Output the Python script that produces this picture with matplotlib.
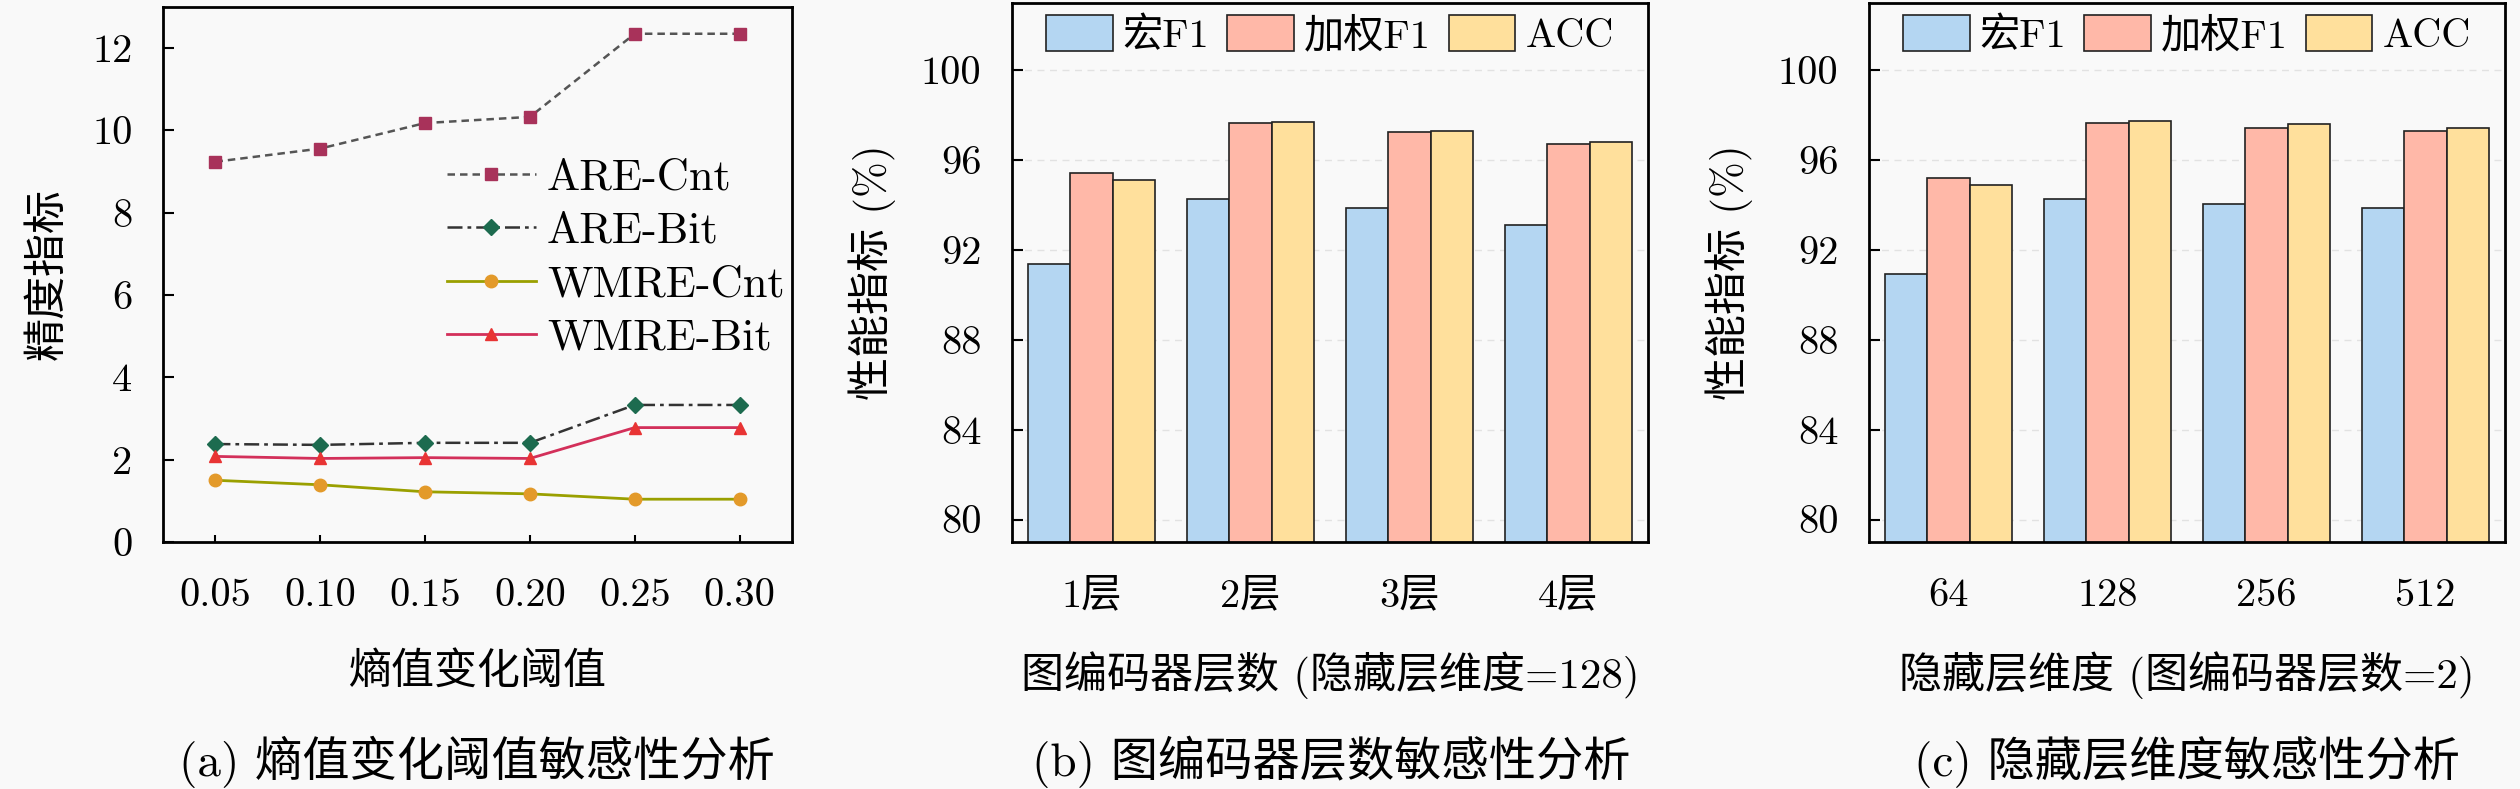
import matplotlib
matplotlib.use("Agg")
import matplotlib.pyplot as plt
import numpy as np

plt.rcParams['font.family'] = ['cmr10', 'Noto Sans CJK SC', 'DejaVu Sans']
plt.rcParams['axes.unicode_minus'] = False
plt.rcParams['mathtext.fontset'] = 'cm'

# ---------- data ----------
thresholds = ["0.05", "0.10", "0.15", "0.20", "0.25", "0.30"]
are_cnt = [9.24, 9.56, 10.18, 10.33, 12.35, 12.35]
are_bit = [2.38, 2.36, 2.41, 2.41, 3.33, 3.33]
wmre_cnt = [1.50, 1.39, 1.22, 1.17, 1.04, 1.04]
wmre_bit = [2.08, 2.03, 2.05, 2.03, 2.78, 2.78]

layers = ["1层", "2层", "3层", "4层"]
layers_macro = [91.36, 94.26, 93.88, 93.13]
layers_weighted = [95.42, 97.66, 97.25, 96.70]
layers_acc = [95.11, 97.72, 97.32, 96.79]

dims = ["64", "128", "256", "512"]
dims_macro = [90.94, 94.27, 94.07, 93.87]
dims_weighted = [95.21, 97.67, 97.43, 97.29]
dims_acc = [94.88, 97.76, 97.61, 97.43]

bar_labels = ["宏F1", "加权F1", "ACC"]
bar_colors = ["#b4d6f2", "#ffb8a8", "#ffe09c"]

W, H = 2520, 789
BG = "#f9f9f9"
fig = plt.figure(figsize=(W / 100, H / 100), dpi=100, facecolor=BG)

def px_axes(l, r, t, b):
    return fig.add_axes([l / W, 1 - b / H, (r - l) / W, (b - t) / H], facecolor=BG)

TICK_FS = 29
LAB_FS = 31
CAP_FS = 34

def style(ax, xticks=True):
    for s in ax.spines.values():
        s.set_linewidth(2.0)
        s.set_color('black')
    ax.tick_params(axis='y', direction='in', length=8, width=1.5, labelsize=TICK_FS, pad=22)
    ax.tick_params(axis='x', direction='in', length=5 if xticks else 0, width=1.5,
                   labelsize=TICK_FS, pad=26)

# ---------- (a) ----------
ax1 = px_axes(163, 792, 7, 542)
x = np.arange(len(thresholds))
ax1.plot(x, are_cnt, linestyle=(0, (3, 2)), color="#555555", lw=1.8, marker='s', ms=9,
         mfc="#a8325a", mec="#a8325a", label="ARE-Cnt")
ax1.plot(x, are_bit, linestyle=(0, (6, 2, 1.5, 2)), color="#333333", lw=1.8, marker='D', ms=8,
         mfc="#1d6b4f", mec="#1d6b4f", label="ARE-Bit")
ax1.plot(x, wmre_cnt, linestyle='-', color="#9aa000", lw=2.0, marker='o', ms=9,
         mfc="#e39a2a", mec="#e39a2a", label="WMRE-Cnt")
ax1.plot(x, wmre_bit, linestyle='-', color="#d3305a", lw=2.0, marker='^', ms=9,
         mfc="#e83434", mec="#e83434", label="WMRE-Bit")
ax1.set_xlim(-0.5, len(thresholds) - 0.5)
ax1.set_ylim(0, 13)
ax1.set_xticks(x)
ax1.set_xticklabels(thresholds)
ax1.set_yticks([0, 2, 4, 6, 8, 10, 12])
style(ax1)
ax1.set_xlabel("熵值变化阈值", fontsize=LAB_FS, labelpad=27)
ax1.set_ylabel("精度指标", fontsize=LAB_FS, labelpad=18)
ax1.legend(loc='center right', bbox_to_anchor=(0.995, 0.53), frameon=False, fontsize=32,
           handlelength=2.0, handletextpad=0.25, labelspacing=0.3, borderpad=0.1,
           borderaxespad=0.0)

# ---------- bar panels ----------
def bar_panel(ax, cats, macro, weighted, acc, xlabel):
    xx = np.arange(len(cats))
    bw = 0.8 / 3
    for i, (vals, c, lab) in enumerate(zip([macro, weighted, acc], bar_colors, bar_labels)):
        ax.bar(xx + (i - 1) * bw, vals, width=bw, color=c, edgecolor='#222222', lw=1.2,
               label=lab, zorder=2)
    ax.set_xlim(-0.5, len(cats) - 0.5)
    ax.set_ylim(79, 103)
    ax.set_yticks([80, 84, 88, 92, 96, 100])
    ax.set_xticks(xx)
    ax.set_xticklabels(cats)
    ax.yaxis.grid(True, linestyle=(0, (5, 4)), color="#e2e2e2", lw=1.0, zorder=0)
    ax.set_axisbelow(True)
    style(ax, xticks=False)
    ax.set_xlabel(xlabel, fontsize=LAB_FS, labelpad=27)
    ax.set_ylabel("性能指标 (%)", fontsize=LAB_FS, labelpad=18)
    ax.legend(loc='upper center', bbox_to_anchor=(0.5, 1.0), ncol=3, frameon=False,
              fontsize=29, handlelength=1.65, handleheight=1.0, handletextpad=0.25,
              columnspacing=0.45, borderpad=0.1, borderaxespad=0.2)

ax2 = px_axes(1012, 1648, 3, 542)
bar_panel(ax2, layers, layers_macro, layers_weighted, layers_acc, "图编码器层数 (隐藏层维度=128)")

ax3 = px_axes(1869, 2505, 3, 542)
bar_panel(ax3, dims, dims_macro, dims_weighted, dims_acc, "隐藏层维度 (图编码器层数=2)")

# ---------- captions ----------
for cx, txt in [(477, "(a) 熵值变化阈值敏感性分析"),
                (1331, "(b) 图编码器层数敏感性分析"),
                (2187, "(c) 隐藏层维度敏感性分析")]:
    fig.text(cx / W, 1 - 762 / H, txt, ha='center', va='center', fontsize=CAP_FS)

fig.savefig("out.png", dpi=100, facecolor=BG)
